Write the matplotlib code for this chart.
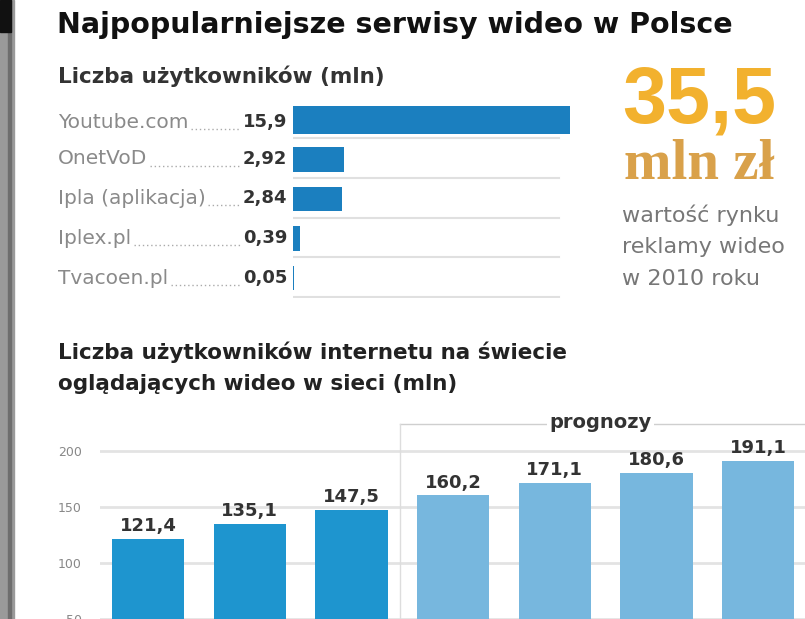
import numpy as np
import matplotlib
matplotlib.use("Agg")
import matplotlib.pyplot as plt
from matplotlib.lines import Line2D
from matplotlib.patches import Rectangle

W, H = 805, 619

# top chart: most popular video services in Poland (mln users)
services = ["Youtube.com", "OnetVoD", "Ipla (aplikacja)", "Iplex.pl", "Tvacoen.pl"]
users = [15.9, 2.92, 2.84, 0.39, 0.05]
users_lbl = ["15,9", "2,92", "2,84", "0,39", "0,05"]

# bottom chart: online video viewers (mln), last four are forecasts
viewers = [121.4, 135.1, 147.5, 160.2, 171.1, 180.6, 191.1]
viewers_lbl = ["121,4", "135,1", "147,5", "160,2", "171,1", "180,6", "191,1"]
forecast = [False, False, False, True, True, True, True]
yticks = [50, 100, 150, 200]

big_value = "35,5"
big_unit = "mln zł"
note_lines = ["wartość rynku", "reklamy wideo", "w 2010 roku"]

plt.rcParams['font.family'] = ['DejaVu Sans']

fig = plt.figure(figsize=(W / 100, H / 100), dpi=100)
fig.patch.set_facecolor("white")


def fx(x):
    return x / W


def fy(y):
    return 1 - y / H


# left edge decoration
fig.patches.append(Rectangle((0, 0), fx(14), 1, transform=fig.transFigure,
                             color="#9a9a9a", zorder=0))
fig.patches.append(Rectangle((fx(8), 0), fx(3), 1, transform=fig.transFigure,
                             color="#6e6e6e", zorder=0))
fig.patches.append(Rectangle((0, fy(32)), fx(11), fy(0) - fy(32), transform=fig.transFigure,
                             color="#111111", zorder=1))

fig.text(fx(57), fy(25), "Najpopularniejsze serwisy wideo w Polsce", fontsize=20.5,
         fontweight="bold", color="#111111", va="center", ha="left")
fig.text(fx(58), fy(76), "Liczba użytkowników (mln)", fontsize=15.5,
         fontweight="bold", color="#333333", va="center", ha="left")

# ---- top horizontal bars
ax1 = fig.add_axes([fx(293), fy(298), fx(575) - fx(293), fy(100) - fy(298)])
ypos = np.arange(len(services))
heights = [0.72, 0.62, 0.62, 0.62, 0.62]
ax1.barh(ypos, users, height=heights, color="#1b7fbf", zorder=2)
for y in ypos:
    ax1.plot([0, 16.0 * 0.955], [y + 0.47, y + 0.47], color="#e0e0e0", lw=1.5, zorder=1)
ax1.set_xlim(0, 16.2)
ax1.set_ylim(len(services) - 0.5, -0.5)
ax1.axis("off")

renderer = fig.canvas.get_renderer()
row_y = [122, 159, 198, 238, 278]
for name, lbl, yy in zip(services, users_lbl, row_y):
    t = fig.text(fx(58), fy(yy), name, fontsize=14.5, color="#8a8a8a", va="center", ha="left")
    v = fig.text(fx(287), fy(yy), lbl, fontsize=13, fontweight="bold", color="#333333",
                 va="center", ha="right")
    te = t.get_window_extent(renderer)
    ve = v.get_window_extent(renderer)
    if ve.x0 - te.x1 > 8:
        fig.lines.append(Line2D([te.x1 / W + 0.003, ve.x0 / W - 0.003], [fy(yy + 7)] * 2,
                                transform=fig.transFigure, color="#aaaaaa", lw=1,
                                linestyle=(0, (1, 2))))

# ---- right highlight
fig.text(fx(622), fy(102), big_value, fontsize=57, fontweight="bold", color="#f2b12e",
         va="center", ha="left", family=["Liberation Sans", "DejaVu Sans"])
fig.text(fx(624), fy(165), big_unit, fontsize=41, fontweight="bold", color="#d9a14a",
         va="center", ha="left", family=["Liberation Serif", "DejaVu Serif"])
for i, line in enumerate(note_lines):
    fig.text(fx(622), fy(215 + i * 32), line, fontsize=16, color="#777777",
             va="center", ha="left")

# ---- bottom chart
fig.text(fx(58), fy(352), "Liczba użytkowników internetu na świecie", fontsize=15.5,
         fontweight="bold", color="#222222", va="center", ha="left")
fig.text(fx(58), fy(384), "oglądających wideo w sieci (mln)", fontsize=15.5,
         fontweight="bold", color="#222222", va="center", ha="left")

ax2 = fig.add_axes([fx(100), 0, 1 - fx(100), fy(400)])
x = np.arange(len(viewers))
colors = ["#77b7de" if f else "#1e95cf" for f in forecast]
ax2.bar(x, viewers, width=0.71, color=colors, zorder=2)
for xi, v, lbl in zip(x, viewers, viewers_lbl):
    ax2.text(xi, v + 3.5, lbl, ha="center", va="bottom", fontsize=13,
             fontweight="bold", color="#333333", zorder=3)
for t in yticks:
    ax2.axhline(t, color="#e3e3e3", lw=2, zorder=1)
ax2.set_xlim(-0.472, -0.472 + 705 / 101.7)
ax2.set_ylim(51.5, 51.5 + 219 / 1.13)
ax2.set_yticks(yticks)
ax2.set_yticklabels([str(t) for t in yticks], fontsize=9, color="#888888")
ax2.tick_params(axis="y", length=0, pad=13)
ax2.set_xticks([])
for s in ax2.spines.values():
    s.set_visible(False)

# forecast bracket
first_fc = forecast.index(True)
xb = first_fc - 0.52
ax2.plot([xb, 6.6], [224, 224], color="#cfcfcf", lw=1, zorder=1, clip_on=False)
ax2.plot([xb, xb], [224, 50], color="#dddddd", lw=1, zorder=1, clip_on=False)
ax2.text((first_fc + len(viewers) - 1) / 2 - 0.05, 225, "prognozy", ha="center",
         va="center", fontsize=14, fontweight="bold", color="#333333", zorder=4,
         bbox=dict(facecolor="white", edgecolor="none", pad=2))

fig.savefig("out.png", dpi=100, facecolor="white")
